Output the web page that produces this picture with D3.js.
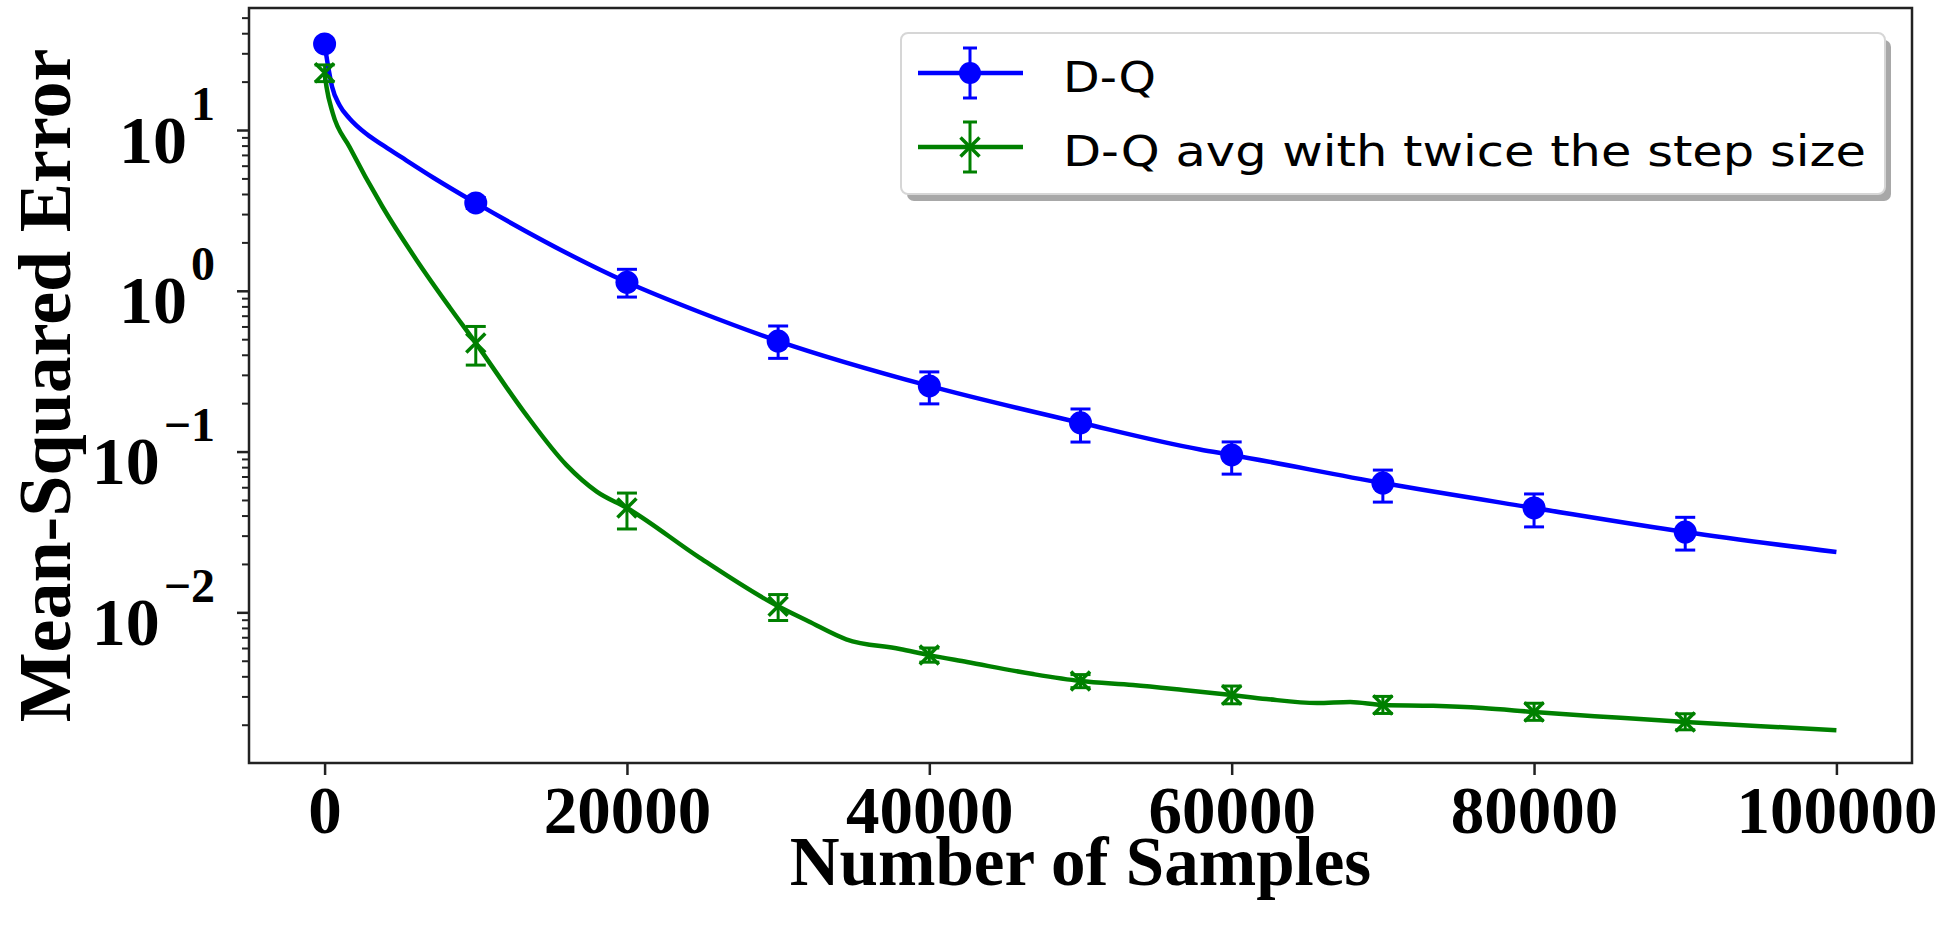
<!DOCTYPE html>
<html lang="en">
<head>
<meta charset="UTF-8">
<title>Mean-Squared Error vs Number of Samples</title>
<script src="https://d3js.org/d3.v7.min.js"></script>
<style>
  body { margin: 0; background: #fff; }
</style>
</head>
<body>
<div id="chart"></div>
<script>
// markers with error bars, every 10000 samples
const markerSteps = [0, 10000, 20000, 30000, 40000, 50000, 60000, 70000, 80000, 90000];
const dqMean = [34.3, 3.52, 1.13, 0.487, 0.256, 0.151, 0.0953, 0.0637, 0.0446, 0.0316];
const dqLow  = [33.0, 3.25, 0.914, 0.38, 0.198, 0.1146, 0.0724, 0.0485, 0.034, 0.0244];
const dqHigh = [35.5, 3.8, 1.36, 0.604, 0.313, 0.184, 0.1148, 0.0767, 0.0545, 0.039];
const avgMean = [22.7, 0.473, 0.0446, 0.0109, 0.00542, 0.00374, 0.00306, 0.00265, 0.0024, 0.00208];
const avgLow  = [20.0, 0.345, 0.033, 0.0089, 0.0049, 0.0034, 0.0027, 0.00235, 0.00213, 0.00186];
const avgHigh = [25.4, 0.60, 0.0552, 0.0129, 0.0060, 0.0041, 0.00348, 0.00300, 0.00272, 0.00234];

// full curves
const dqCurveX = [0, 200, 500, 1000, 1650, 2800, 3800, 5000, 7200, 10000, 20000, 24800, 30000,
                  40000, 50000, 57900, 60000, 70000, 80000, 90000, 100000];
const dqCurveY = [34.3, 26, 18.5, 14.2, 11.8, 9.4, 8.1, 6.85, 5.05, 3.52, 1.13, 0.738, 0.487,
                  0.256, 0.151, 0.103, 0.0953, 0.0637, 0.0446, 0.0316, 0.0237];
const avgCurveX = [0, 130, 530, 1650, 3840, 6090, 8270, 10000, 13200, 16000, 18000, 20000, 24800, 30000,
                   32000, 34500, 38050, 40000, 42490, 46860, 50000, 53470, 56790,
                   60000, 62300, 65650, 67840, 70000, 73330, 76600, 80000, 84000, 87000, 90000,
                   95000, 100000];
const avgCurveY = [22.7, 18.5, 12.8, 7.84, 3.32, 1.55, 0.79, 0.473, 0.176, 0.0824, 0.0564, 0.0446, 0.0219, 0.0109,
                   0.0088, 0.0068, 0.00592, 0.00542, 0.00491, 0.00413, 0.00374, 0.00353, 0.00329,
                   0.00306, 0.00289, 0.00273, 0.00277, 0.00265, 0.00262, 0.00254, 0.0024, 0.00226, 0.00217, 0.00208,
                   0.00196, 0.00185];

const xTicks = [0, 20000, 40000, 60000, 80000, 100000];
const yMajor = [0.01, 0.1, 1, 10];
const legendLabels = ['D-Q', 'D-Q avg with twice the step size'];

let width = 1952, height = 925,
    margin = {top: 8, right: 40, bottom: 162, left: 249},
    blue = '#0000ff', green = '#008000',
    serif = '"Liberation Serif", "Times New Roman", serif';

let x = d3.scaleLinear().domain([-5000, 105000]).range([margin.left, width - margin.right]),
    y = d3.scaleLog().domain([0.001156, 57.4]).range([height - margin.bottom, margin.top]);

let svg = d3.select('#chart').append('svg')
    .attr('width', width)
    .attr('height', height)
    .style('display', 'block');

svg.append('clipPath').attr('id', 'plotClip')
  .append('rect')
    .attr('x', margin.left).attr('y', margin.top)
    .attr('width', width - margin.left - margin.right)
    .attr('height', height - margin.top - margin.bottom);

// x axis
let gx = svg.append('g')
    .attr('transform', `translate(0,${height - margin.bottom})`)
    .call(d3.axisBottom(x).tickValues(xTicks).tickSize(12).tickPadding(10).tickFormat(d3.format('d')));
gx.select('.domain').remove();
gx.selectAll('line').attr('stroke', '#222').attr('stroke-width', 2.5);
gx.selectAll('text')
    .attr('fill', '#000')
    .style('font-family', serif).style('font-weight', 'bold').style('font-size', '67px');

// y axis, minor ticks
let yMinor = y.ticks().filter(d => Math.abs(Math.log10(d) - Math.round(Math.log10(d))) > 1e-6);
let gyMinor = svg.append('g')
    .attr('transform', `translate(${margin.left},0)`)
    .call(d3.axisLeft(y).tickValues(yMinor).tickSize(7).tickFormat(''));
gyMinor.select('.domain').remove();
gyMinor.selectAll('line').attr('stroke', '#222').attr('stroke-width', 2);

// y axis, major ticks with 10^n labels
let gy = svg.append('g')
    .attr('transform', `translate(${margin.left},0)`)
    .call(d3.axisLeft(y).tickValues(yMajor).tickSize(12).tickFormat(''));
gy.select('.domain').remove();
gy.selectAll('line').attr('stroke', '#222').attr('stroke-width', 2.5);
gy.selectAll('.tick text').remove();
let lbl = gy.selectAll('.tick').append('text')
    .attr('x', -34)
    .attr('y', 32)
    .attr('text-anchor', 'end')
    .attr('fill', '#000')
    .style('font-family', serif).style('font-weight', 'bold').style('font-size', '68px');
lbl.append('tspan').text('10');
lbl.append('tspan')
    .attr('dy', -43)
    .attr('dx', 4)
    .style('font-size', '48px')
    .text(d => {
        let e = Math.round(Math.log10(d));
        return e < 0 ? '\u2212' + (-e) : String(e);
    });

// series
let series = [
    {name: legendLabels[0], color: blue, cx: dqCurveX, cy: dqCurveY, mean: dqMean, lo: dqLow, hi: dqHigh, marker: 'o'},
    {name: legendLabels[1], color: green, cx: avgCurveX, cy: avgCurveY, mean: avgMean, lo: avgLow, hi: avgHigh, marker: 'x'}
];

let line = d3.line().x(d => x(d[0])).y(d => y(d[1])).curve(d3.curveMonotoneX);
let plot = svg.append('g').attr('clip-path', 'url(#plotClip)');

function drawMarker(g, type, color, r) {
    if (type === 'o') {
        g.append('circle').attr('r', r).attr('fill', color);
    } else {
        g.append('path')
            .attr('d', `M${-r},${-r}L${r},${r}M${-r},${r}L${r},${-r}`)
            .attr('stroke', color).attr('stroke-width', 3.5).attr('fill', 'none');
    }
}

series.forEach(s => {
    plot.append('path')
        .datum(s.cx.map((v, i) => [v, s.cy[i]]))
        .attr('fill', 'none')
        .attr('stroke', s.color)
        .attr('stroke-width', 4.5)
        .attr('stroke-linejoin', 'round')
        .attr('d', line);

    let pts = plot.selectAll(null)
        .data(markerSteps.map((v, i) => ({x: v, m: s.mean[i], lo: s.lo[i], hi: s.hi[i]})))
        .enter().append('g');
    pts.append('line')
        .attr('x1', d => x(d.x)).attr('x2', d => x(d.x))
        .attr('y1', d => y(d.lo)).attr('y2', d => y(d.hi))
        .attr('stroke', s.color).attr('stroke-width', 3);
    ['lo', 'hi'].forEach(k => {
        pts.append('line')
            .attr('x1', d => x(d.x) - 10).attr('x2', d => x(d.x) + 10)
            .attr('y1', d => y(d[k])).attr('y2', d => y(d[k]))
            .attr('stroke', s.color).attr('stroke-width', 3);
    });
    pts.append('g')
        .attr('transform', d => `translate(${x(d.x)},${y(d.m)})`)
        .each(function() { drawMarker(d3.select(this), s.marker, s.color, s.marker === 'o' ? 11.5 : 9.5); });
});

// frame
svg.append('rect')
    .attr('x', margin.left).attr('y', margin.top)
    .attr('width', width - margin.left - margin.right)
    .attr('height', height - margin.top - margin.bottom)
    .attr('fill', 'none').attr('stroke', '#222').attr('stroke-width', 2.5);

// axis titles
svg.append('text')
    .attr('x', (margin.left + width - margin.right) / 2)
    .attr('y', 885)
    .attr('text-anchor', 'middle')
    .style('font-family', serif).style('font-weight', 'bold').style('font-size', '69px')
    .text('Number of Samples');
svg.append('text')
    .attr('transform', `translate(70,${(margin.top + height - margin.bottom) / 2}) rotate(-90)`)
    .attr('text-anchor', 'middle')
    .style('font-family', serif).style('font-weight', 'bold').style('font-size', '74px')
    .text('Mean-Squared Error');

// legend
let lg = svg.append('g'),
    lgX = 901, lgY = 33, lgW = 984, lgH = 161,
    rowY = [73, 147], textLen = [93, 803];
lg.append('rect')
    .attr('x', lgX + 6).attr('y', lgY + 7).attr('width', lgW).attr('height', lgH)
    .attr('rx', 7).attr('fill', '#a8a8a8');
lg.append('rect')
    .attr('x', lgX).attr('y', lgY).attr('width', lgW).attr('height', lgH)
    .attr('rx', 7).attr('fill', '#fff').attr('stroke', '#d6d6d6').attr('stroke-width', 2);

series.forEach((s, i) => {
    let row = lg.append('g').attr('transform', `translate(0,${rowY[i]})`);
    row.append('line').attr('x1', 918).attr('x2', 1023).attr('y1', 0).attr('y2', 0)
        .attr('stroke', s.color).attr('stroke-width', 4.5);
    row.append('line').attr('x1', 970).attr('x2', 970).attr('y1', -25).attr('y2', 25)
        .attr('stroke', s.color).attr('stroke-width', 3);
    [-25, 25].forEach(v => {
        row.append('line').attr('x1', 963).attr('x2', 977).attr('y1', v).attr('y2', v)
            .attr('stroke', s.color).attr('stroke-width', 3);
    });
    drawMarker(row.append('g').attr('transform', 'translate(970,0)'), s.marker, s.color, s.marker === 'o' ? 11 : 9.5);
    row.append('text')
        .attr('x', 1063).attr('y', 19)
        .attr('textLength', textLen[i]).attr('lengthAdjust', 'spacingAndGlyphs')
        .style('font-family', '"DejaVu Sans", sans-serif').style('font-size', '42px')
        .attr('fill', '#000')
        .text(s.name);
});
</script>
</body>
</html>
